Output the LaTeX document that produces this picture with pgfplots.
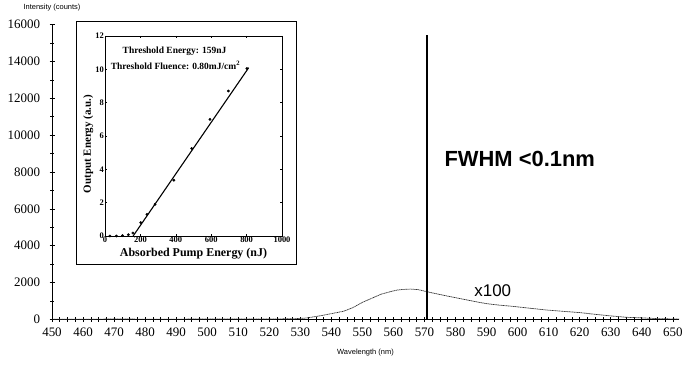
\documentclass[border=0pt]{standalone}
\usepackage{pgfplots}
\pgfplotsset{compat=1.18}
\usepackage{fontspec}
\setmainfont{Liberation Serif}
\newfontfamily\arial{Liberation Sans}
\begin{document}
\begin{tikzpicture}
\useasboundingbox (0bp,0bp) rectangle (682bp,371bp);
\begin{axis}[
  at={(52bp,51.5bp)}, anchor=south west,
  scale only axis, width=627bp, height=295bp,
  xmin=450, xmax=652, ymin=0, ymax=16000,
  axis lines=left, axis line style={-, line width=0.9bp},
  xtick={450,460,...,650}, ytick={0,2000,...,16000},
  minor x tick num=3, minor y tick num=1,
  tick align=center, major tick length=5bp, minor tick length=4bp,
  tick style={black, line width=0.6bp},
  /pgf/number format/assume math mode=true,
  /pgf/number format/1000 sep={},
  scaled ticks=false,
  ticklabel style={font=\fontsize{13}{15}\selectfont},
  yticklabel style={xshift=-6bp},
  xticklabel style={yshift=-2bp},
  xlabel={Wavelength (nm)},
  xlabel style={font=\arial\fontsize{7.5}{9}\selectfont, at={(axis description cs:0.5,-0.1136)}, anchor=center},
  ylabel={Intensity (counts)},
  ylabel style={font=\arial\fontsize{7.5}{9}\selectfont, rotate=-90, at={(axis description cs:0,1.056)}, anchor=center},
  clip=false,
]
\addplot[black!80, line width=0.7bp, dash pattern=on 1.2bp off 0.5bp] coordinates {
(450,20) (460,15) (470,25) (480,20) (490,20) (500,25) (510,25) (520,30) (528,40)
(532,80) (537,220) (541,350) (544,450) (547,650) (550,930) (553,1150) (556,1370)
(559,1510) (561,1590) (563,1630) (565.5,1650) (568,1620) (571,1500) (574,1390)
(577.4,1270) (581,1150) (584,1050) (587,950) (590,860) (594,780) (598.7,710)
(604,610) (609.6,510) (615,440) (620.3,370) (625,280) (631,180) (635,120)
(639.7,90) (645,50) (650,30) (652,25)};
\addplot[black, line width=1.1bp] coordinates {(570.8,0) (570.8,15450)};
\addplot[black, line width=1.8bp] coordinates {(570.8,0) (570.8,3200)};
\node[font=\arial\bfseries\fontsize{22}{26}\selectfont] at (axis cs:600.7,8700) {FWHM <0.1nm};
\node[font=\arial\fontsize{17}{20}\selectfont] at (axis cs:592,1546) {x100};
\end{axis}
\draw[line width=0.7bp, fill=white] (76bp,107bp) rectangle (296bp,350bp);
\begin{axis}[
  at={(105bp,135bp)}, anchor=south west,
  scale only axis, width=177bp, height=200bp,
  xmin=0, xmax=1000, ymin=0, ymax=12,
  xtick={0,200,...,1000}, ytick={0,2,...,12},
  tick align=inside, major tick length=2bp,
  axis line style={line width=0.6bp},
  tick style={black, line width=0.5bp},
  /pgf/number format/assume math mode=true,
  /pgf/number format/1000 sep={},
  ticklabel style={font=\bfseries\fontsize{8.5}{10}\selectfont, inner sep=1bp},
  xlabel={Absorbed Pump Energy (nJ)},
  xlabel style={font=\bfseries\fontsize{12}{14}\selectfont, at={(axis description cs:0.5,-0.09)}, anchor=center},
  ylabel={Output Energy (a.u.)},
  ylabel style={font=\bfseries\fontsize{11}{13}\selectfont, at={(axis description cs:-0.095,0.46)}, anchor=center},
]
\addplot[black, line width=1.1bp, no marks] coordinates {(159,0) (812,10.1)};
\addplot[only marks, mark=*, mark size=1.2bp, black] coordinates {
(28,0) (64,0) (99,0.02) (132,0.08) (158,0.18) (202,0.8) (237,1.3) (283,1.9)
(389,3.35) (490,5.25) (593,7.0) (697,8.7) (802,10.05)};
\node[font=\bfseries\fontsize{9.5}{11}\selectfont] at (axis cs:393,11.1) {Threshold Energy: 159nJ};
\node[font=\bfseries\fontsize{9.5}{11}\selectfont] at (axis cs:398,10.24) {Threshold Fluence: 0.80mJ/cm\textsuperscript{2}};
\end{axis}
\end{tikzpicture}
\end{document}
